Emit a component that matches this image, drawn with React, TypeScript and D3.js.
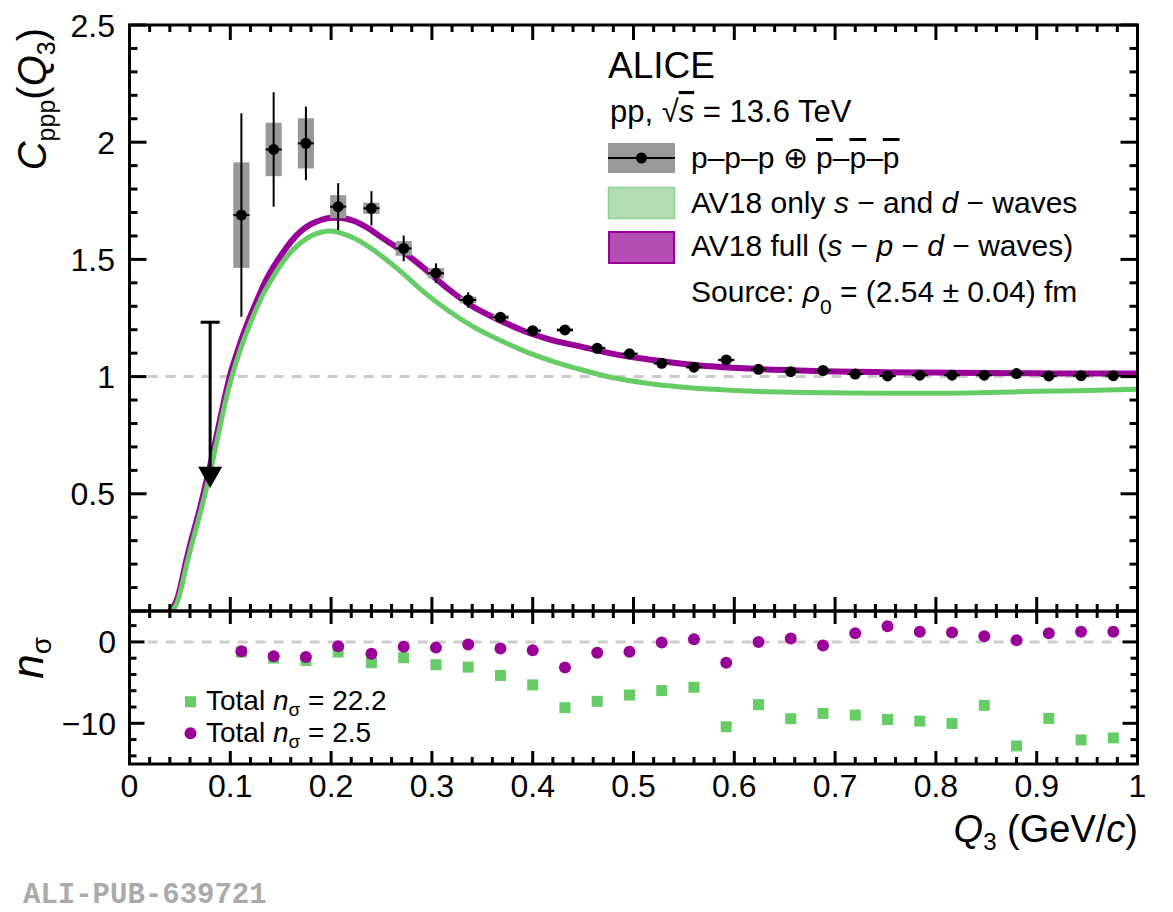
import * as d3 from 'd3';

const q3 = [0.111, 0.143, 0.175, 0.207, 0.240, 0.272, 0.304, 0.336, 0.368, 0.400, 0.432, 0.464, 0.496, 0.528,
  0.560, 0.592, 0.624, 0.656, 0.688, 0.720, 0.752, 0.784, 0.816, 0.848, 0.880, 0.912, 0.944, 0.976];
const cppp = [1.689, 1.969, 1.995, 1.725, 1.718, 1.547, 1.441, 1.327, 1.253, 1.196, 1.199, 1.121, 1.097, 1.057,
  1.040, 1.071, 1.031, 1.021, 1.026, 1.011, 1.003, 1.006, 1.006, 1.006, 1.013, 1.003, 1.004, 1.004];
const statErr = [0.434, 0.244, 0.157, 0.100, 0.073, 0.055, 0.042, 0.033, 0.022, 0.018, 0.018, 0.016, 0.015, 0.014,
  0.013, 0.013, 0.012, 0.012, 0.012, 0.011, 0.011, 0.011, 0.011, 0.011, 0.011, 0.011, 0.011, 0.011];
const sysErr = [0.225, 0.114, 0.107, 0.049, 0.024, 0.031, 0.022, 0.014, 0.010, 0.008, 0.008, 0.007, 0.007, 0.006,
  0.006, 0.006, 0.005, 0.005, 0.005, 0.005, 0.005, 0.005, 0.005, 0.005, 0.005, 0.005, 0.005, 0.005];
const binHalfWidth = 0.008;

// upper limit at the lowest bin
const upperLimitQ = 0.080;
const upperLimitC = 1.232;

// model curves
const modelQ = [0.040, 0.044, 0.048, 0.052, 0.056, 0.060, 0.065, 0.070, 0.075, 0.080, 0.085, 0.090, 0.095, 0.100,
  0.105, 0.110, 0.115, 0.120, 0.127, 0.133, 0.139, 0.146, 0.154, 0.162, 0.170, 0.180, 0.190, 0.200, 0.210, 0.222,
  0.236, 0.250, 0.270, 0.290, 0.315, 0.340, 0.365, 0.390, 0.420, 0.450, 0.480, 0.515, 0.550, 0.580, 0.620, 0.660,
  0.700, 0.750, 0.800, 0.850, 0.900, 0.950, 1.000];
const modelFull = [0.00, 0.02, 0.06, 0.13, 0.21, 0.28, 0.36, 0.44, 0.53, 0.62, 0.72, 0.82, 0.92, 1.01,
  1.08, 1.145, 1.205, 1.26, 1.33, 1.39, 1.44, 1.49, 1.54, 1.585, 1.62, 1.65, 1.668, 1.678, 1.677, 1.665,
  1.635, 1.594, 1.537, 1.47, 1.378, 1.30, 1.245, 1.197, 1.155, 1.126, 1.097, 1.073, 1.054, 1.043, 1.033, 1.027,
  1.022, 1.019, 1.017, 1.015, 1.014, 1.013, 1.013];
const modelSD = [0.00, 0.01, 0.045, 0.11, 0.185, 0.255, 0.335, 0.415, 0.50, 0.59, 0.69, 0.79, 0.89, 0.975,
  1.05, 1.115, 1.175, 1.23, 1.30, 1.355, 1.40, 1.45, 1.50, 1.54, 1.571, 1.60, 1.616, 1.621, 1.612, 1.592,
  1.558, 1.515, 1.445, 1.368, 1.285, 1.215, 1.16, 1.112, 1.065, 1.027, 0.995, 0.971, 0.955, 0.946, 0.937, 0.933,
  0.931, 0.929, 0.929, 0.932, 0.937, 0.941, 0.946];

// deviations
const nSigmaSD = [-1.24, -1.98, -2.27, -1.24, -2.56, -1.94, -2.80, -3.09, -4.12, -5.28, -8.08, -7.30, -6.52, -5.98,
  -5.57, -10.43, -7.71, -9.44, -8.78, -8.99, -9.53, -9.73, -10.02, -7.79, -12.78, -9.40, -12.04, -11.79];
const nSigmaFull = [-1.15, -1.77, -1.86, -0.54, -1.44, -0.58, -0.70, -0.33, -0.82, -1.03, -3.13, -1.32, -1.20, -0.08,
  0.33, -2.56, 0.00, 0.41, -0.45, 1.07, 1.94, 1.24, 1.15, 0.70, 0.21, 1.07, 1.24, 1.24];

// axes
const xTicks = [0, 0.1, 0.2, 0.3, 0.4, 0.5, 0.6, 0.7, 0.8, 0.9, 1];
const xTickLabels = ['0', '0.1', '0.2', '0.3', '0.4', '0.5', '0.6', '0.7', '0.8', '0.9', '1'];
const mainYTicks = [0.5, 1, 1.5, 2, 2.5];
const mainYTickLabels = ['0.5', '1', '1.5', '2', '2.5'];
const lowYTicks = [0, -10];
const lowYTickLabels = ['0', '\u221210'];

const PURPLE = '#990099';
const GREEN = '#66cc66';
const FONT = "'Liberation Sans', Arial, Helvetica, sans-serif";

const L = 129.5, R = 1137.5, TOP = 25, MID = 611, BOT = 764;

export default function App() {
  const x = d3.scaleLinear().domain([0, 1]).range([L, R]);
  const yMain = d3.scaleLinear().domain([0, 2.5]).range([MID, TOP]);
  const yLow = d3.scaleLinear().domain([-15, 3.8]).range([BOT, MID]);

  const xMinor = d3.range(0, 1.0001, 0.02);
  const mainMinor = d3.range(0, 2.5001, 0.1);
  const lowMinor = d3.range(-14, 3.9, 2);

  const curve = (vals: number[]) =>
    d3.line<number>()
      .x((_, i) => x(modelQ[i]))
      .y(v => yMain(v))
      .curve(d3.curveMonotoneX)(vals) ?? '';

  const isMajorX = (v: number) => Math.abs(v * 10 - Math.round(v * 10)) < 1e-6;
  const isMajorMain = (v: number) => Math.abs(v * 2 - Math.round(v * 2)) < 1e-6;
  const isMajorLow = (v: number) => Math.abs(v / 10 - Math.round(v / 10)) < 1e-6;

  const tk = { stroke: '#000', strokeWidth: 3 };

  const ux = x(upperLimitQ);

  return (
    <svg width={1173} height={912} style={{ position: 'absolute', left: 0, top: 0, background: '#fff' }} fontFamily={FONT}>
      <defs>
        <clipPath id="mainClip">
          <rect x={L} y={TOP} width={R - L} height={MID - TOP} />
        </clipPath>
      </defs>

      {/* reference lines */}
      <line x1={x(0.018)} x2={x(0.983)} y1={yMain(1)} y2={yMain(1)} stroke="#cccccc" strokeWidth={3} strokeDasharray="10 8" />
      <line x1={x(0.018)} x2={x(0.983)} y1={yLow(0)} y2={yLow(0)} stroke="#cccccc" strokeWidth={3} strokeDasharray="10 8" />

      {/* models */}
      <g clipPath="url(#mainClip)" fill="none">
        <path d={curve(modelFull)} stroke={PURPLE} strokeWidth={6} />
        <path d={curve(modelSD)} stroke={GREEN} strokeWidth={5} />
      </g>

      {/* data: systematic boxes */}
      <g fill="#999999">
        {q3.map((q, i) => (
          <rect key={i} x={x(q - binHalfWidth)} width={x(q + binHalfWidth) - x(q - binHalfWidth)}
            y={yMain(cppp[i] + sysErr[i])} height={yMain(cppp[i] - sysErr[i]) - yMain(cppp[i] + sysErr[i])} />
        ))}
      </g>
      <g stroke="#000" strokeWidth={2}>
        {q3.map((q, i) => (
          <g key={i}>
            <line x1={x(q)} x2={x(q)} y1={yMain(cppp[i] + statErr[i])} y2={yMain(cppp[i] - statErr[i])} />
            <line x1={x(q - binHalfWidth)} x2={x(q + binHalfWidth)} y1={yMain(cppp[i])} y2={yMain(cppp[i])} />
          </g>
        ))}
      </g>
      <g fill="#000">
        {q3.map((q, i) => <circle key={i} cx={x(q)} cy={yMain(cppp[i])} r={5.5} />)}
      </g>

      {/* upper limit */}
      <line x1={ux} x2={ux} y1={yMain(upperLimitC)} y2={yMain(0.6)} stroke="#000" strokeWidth={3} />
      <line x1={ux - 9.5} x2={ux + 9.5} y1={yMain(upperLimitC)} y2={yMain(upperLimitC)} stroke="#000" strokeWidth={3} />
      <polygon points={`${ux - 12},${yMain(0.615)} ${ux + 12},${yMain(0.615)} ${ux},${yMain(0.525)}`} fill="#000" />

      {/* lower panel points */}
      <g fill={GREEN}>
        {q3.map((q, i) => <rect key={i} x={x(q) - 5.5} y={yLow(nSigmaSD[i]) - 5.5} width={11} height={11} />)}
      </g>
      <g fill={PURPLE}>
        {q3.map((q, i) => <circle key={i} cx={x(q)} cy={yLow(nSigmaFull[i])} r={6} />)}
      </g>

      {/* frames */}
      <rect x={L} y={TOP} width={R - L} height={MID - TOP} fill="none" {...tk} />
      <rect x={L} y={MID} width={R - L} height={BOT - MID} fill="none" {...tk} />

      {/* ticks on all edges */}
      <g {...tk}>
        {xMinor.map((v, i) => {
          const m = isMajorX(v);
          const xx = x(v);
          return (
            <g key={i}>
              <line x1={xx} x2={xx} y1={TOP} y2={TOP + (m ? 15 : 7)} />
              <line x1={xx} x2={xx} y1={MID} y2={MID - (m ? 14 : 7)} />
              <line x1={xx} x2={xx} y1={MID} y2={MID + (m ? 13 : 7)} />
              <line x1={xx} x2={xx} y1={BOT} y2={BOT - (m ? 13 : 7)} />
            </g>
          );
        })}
        {mainMinor.map((v, i) => {
          const len = isMajorMain(v) ? 17 : 8;
          const yy = yMain(v);
          return (
            <g key={i}>
              <line x1={L} x2={L + len} y1={yy} y2={yy} />
              <line x1={R} x2={R - len} y1={yy} y2={yy} />
            </g>
          );
        })}
        {lowMinor.map((v, i) => {
          const len = isMajorLow(v) ? 15 : 7;
          const yy = yLow(v);
          return (
            <g key={i}>
              <line x1={L} x2={L + len} y1={yy} y2={yy} />
              <line x1={R} x2={R - len} y1={yy} y2={yy} />
            </g>
          );
        })}
      </g>

      {/* tick labels */}
      <g fontSize={32} fill="#000">
        {mainYTicks.map((v, i) => (
          <text key={i} x={115} y={yMain(v)} dy="0.36em" textAnchor="end">{mainYTickLabels[i]}</text>
        ))}
        {lowYTicks.map((v, i) => (
          <text key={i} x={116} y={yLow(v)} dy="0.36em" textAnchor="end">{lowYTickLabels[i]}</text>
        ))}
        {xTicks.map((v, i) => (
          <text key={i} x={x(v)} y={797} textAnchor="middle">{xTickLabels[i]}</text>
        ))}
      </g>

      {/* axis titles */}
      <text transform="translate(46,28) rotate(-90)" textAnchor="end" fontSize={40}>
        <tspan fontStyle="italic">C</tspan>
        <tspan fontSize={25} dy={9}>ppp</tspan>
        <tspan dy={-9}>(</tspan>
        <tspan fontStyle="italic">Q</tspan>
        <tspan fontSize={25} dy={9}>3</tspan>
        <tspan dy={-9}>)</tspan>
      </text>
      <text transform="translate(43,637) rotate(-90)" textAnchor="end" fontSize={44}>
        <tspan fontStyle="italic">n</tspan>
        <tspan fontSize={28} dy={8}>σ</tspan>
      </text>
      <text x={1138} y={842} textAnchor="end" fontSize={38}>
        <tspan fontStyle="italic">Q</tspan>
        <tspan fontSize={24} dy={8}>3</tspan>
        <tspan dy={-8}> (GeV/</tspan>
        <tspan fontStyle="italic">c</tspan>
        <tspan>)</tspan>
      </text>

      {/* main legend */}
      <text x={608} y={78} fontSize={37}>ALICE</text>
      <text x={610} y={122} fontSize={31}>
        pp, √<tspan fontStyle="italic" style={{ textDecoration: 'overline' }}>s</tspan> = 13.6 TeV
      </text>

      <rect x={608} y={143} width={67} height={30} fill="#999999" />
      <line x1={608} x2={675} y1={158} y2={158} stroke="#000" strokeWidth={2} />
      <circle cx={641.5} cy={158} r={5.5} fill="#000" />
      <text x={691} y={168} fontSize={30}>
        p–p–p ⊕ <tspan style={{ textDecoration: 'overline' }}>p</tspan>–<tspan style={{ textDecoration: 'overline' }}>p</tspan>–<tspan style={{ textDecoration: 'overline' }}>p</tspan>
      </text>

      <rect x={608.5} y={187.5} width={66} height={31} fill="#b3dcb3" stroke="#8fd18f" strokeWidth={1.5} />
      <text x={691} y={213} fontSize={30}>
        AV18 only <tspan fontStyle="italic">s</tspan> − and <tspan fontStyle="italic">d</tspan> − waves
      </text>

      <rect x={609} y={232} width={65} height={31} fill="#b44db4" stroke={PURPLE} strokeWidth={2} />
      <text x={691} y={256} fontSize={30}>
        AV18 full (<tspan fontStyle="italic">s</tspan> − <tspan fontStyle="italic">p</tspan> − <tspan fontStyle="italic">d</tspan> − waves)
      </text>

      <text x={691} y={302} fontSize={30}>
        Source: <tspan fontStyle="italic">ρ</tspan>
        <tspan fontSize={21} dy={12}>0</tspan>
        <tspan dy={-12}> = (2.54 ± 0.04) fm</tspan>
      </text>

      {/* lower legend */}
      <rect x={185} y={696.2} width={11} height={11} fill={GREEN} />
      <text x={206} y={710} fontSize={28}>
        Total <tspan fontStyle="italic">n</tspan>
        <tspan fontSize={19} dy={6}>σ</tspan>
        <tspan dy={-6}> = 22.2</tspan>
      </text>
      <circle cx={190.5} cy={733.3} r={6} fill={PURPLE} />
      <text x={206} y={742} fontSize={28}>
        Total <tspan fontStyle="italic">n</tspan>
        <tspan fontSize={19} dy={6}>σ</tspan>
        <tspan dy={-6}> = 2.5</tspan>
      </text>

      <text x={23} y={903} fontFamily="'Liberation Mono', 'Courier New', monospace" fontWeight="bold" fontSize={29} fill="#aaaaaa">
        ALI-PUB-639721
      </text>
    </svg>
  );
}
